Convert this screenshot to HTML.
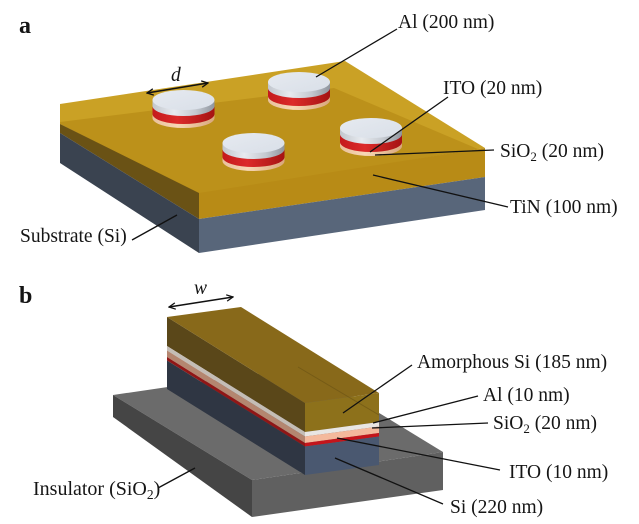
<!DOCTYPE html>
<html>
<head>
<meta charset="utf-8">
<style>
  html,body{margin:0;padding:0;background:#fff;}
  svg{display:block;}
  text{font-family:"Liberation Serif","Times New Roman",serif;fill:#151515;}
</style>
</head>
<body>
<svg width="639" height="524" viewBox="0 0 639 524" xmlns="http://www.w3.org/2000/svg">
<defs>
  <linearGradient id="silver" x1="0" y1="0" x2="1" y2="0">
    <stop offset="0" stop-color="#c2c7ce"/>
    <stop offset="0.35" stop-color="#e7eaef"/>
    <stop offset="0.7" stop-color="#c4c9d0"/>
    <stop offset="1" stop-color="#8f959e"/>
  </linearGradient>
  <linearGradient id="red" x1="0" y1="0" x2="1" y2="0">
    <stop offset="0" stop-color="#c41a1c"/>
    <stop offset="0.4" stop-color="#dc2a2a"/>
    <stop offset="1" stop-color="#a51313"/>
  </linearGradient>
  <linearGradient id="peach" x1="0" y1="0" x2="1" y2="0">
    <stop offset="0" stop-color="#e9c09a"/>
    <stop offset="0.4" stop-color="#f7d8b6"/>
    <stop offset="1" stop-color="#d9a77c"/>
  </linearGradient>
  <linearGradient id="topdisk" x1="0" y1="0" x2="1" y2="1">
    <stop offset="0" stop-color="#e6eaf0"/>
    <stop offset="1" stop-color="#d9dfe8"/>
  </linearGradient>
  <clipPath id="topA">
    <polygon points="60,104 345,61 485,148 199,194 60,124"/>
  </clipPath>
  <marker id="ah" viewBox="0 0 10 10" refX="9" refY="5" markerWidth="8" markerHeight="8" markerUnits="userSpaceOnUse" orient="auto-start-reverse">
    <path d="M1,1 L9,5 L1,9" fill="none" stroke="#111" stroke-width="1.6"/>
  </marker>
</defs>
<rect x="0" y="0" width="639" height="524" fill="#fff"/>

<!-- ================= PANEL A ================= -->
<text x="19" y="33" font-size="24" font-weight="bold">a</text>

<!-- top face -->
<polygon points="60,104 345,61 485,148 199,194 60,124" fill="#caa125"/>
<polygon clip-path="url(#topA)" points="60,122 334,88 485,152 199,205 60,140" fill="#bc911a"/>
<!-- left face gold -->
<polygon points="60,124 199,193 199,219 60,133" fill="#6a5215"/>
<!-- front face gold -->
<polygon points="199,193 485,148 485,177 199,219" fill="#b88b16"/>
<!-- substrate -->
<polygon points="60,133 199,219 199,253 60,163" fill="#3a4350"/>
<polygon points="199,219 485,177 485,210 199,253" fill="#58667a"/>

<!-- disks -->
<g>
  <ellipse cx="299" cy="100" rx="31" ry="10" fill="url(#peach)"/>
  <rect x="268" y="96" width="62" height="4" fill="url(#peach)"/>
  <ellipse cx="299" cy="96" rx="31" ry="10" fill="url(#red)"/>
  <rect x="268" y="88" width="62" height="8" fill="url(#red)"/>
  <ellipse cx="299" cy="88" rx="31" ry="10" fill="url(#silver)"/>
  <rect x="268" y="82" width="62" height="6" fill="url(#silver)"/>
  <ellipse cx="299" cy="82" rx="31" ry="10" fill="url(#topdisk)"/>
</g>
<g>
  <ellipse cx="183.5" cy="118" rx="31" ry="10" fill="url(#peach)"/>
  <rect x="152.5" y="114" width="62" height="4" fill="url(#peach)"/>
  <ellipse cx="183.5" cy="114" rx="31" ry="10" fill="url(#red)"/>
  <rect x="152.5" y="106" width="62" height="8" fill="url(#red)"/>
  <ellipse cx="183.5" cy="106" rx="31" ry="10" fill="url(#silver)"/>
  <rect x="152.5" y="100" width="62" height="6" fill="url(#silver)"/>
  <ellipse cx="183.5" cy="100" rx="31" ry="10" fill="url(#topdisk)"/>
</g>
<g>
  <ellipse cx="371" cy="146" rx="31" ry="10" fill="url(#peach)"/>
  <rect x="340" y="142" width="62" height="4" fill="url(#peach)"/>
  <ellipse cx="371" cy="142" rx="31" ry="10" fill="url(#red)"/>
  <rect x="340" y="134" width="62" height="8" fill="url(#red)"/>
  <ellipse cx="371" cy="134" rx="31" ry="10" fill="url(#silver)"/>
  <rect x="340" y="128" width="62" height="6" fill="url(#silver)"/>
  <ellipse cx="371" cy="128" rx="31" ry="10" fill="url(#topdisk)"/>
</g>
<g>
  <ellipse cx="253.5" cy="161" rx="31" ry="10" fill="url(#peach)"/>
  <rect x="222.5" y="157" width="62" height="4" fill="url(#peach)"/>
  <ellipse cx="253.5" cy="157" rx="31" ry="10" fill="url(#red)"/>
  <rect x="222.5" y="149" width="62" height="8" fill="url(#red)"/>
  <ellipse cx="253.5" cy="149" rx="31" ry="10" fill="url(#silver)"/>
  <rect x="222.5" y="143" width="62" height="6" fill="url(#silver)"/>
  <ellipse cx="253.5" cy="143" rx="31" ry="10" fill="url(#topdisk)"/>
</g>

<!-- d arrow -->
<line x1="147" y1="93" x2="208" y2="83" stroke="#111" stroke-width="1.6" marker-start="url(#ah)" marker-end="url(#ah)"/>
<text x="171" y="81" font-size="19.5" font-style="italic">d</text>

<!-- leader lines a -->
<g stroke="#111" stroke-width="1.3" fill="none">
  <line x1="316" y1="77" x2="397" y2="29"/>
  <line x1="370" y1="152" x2="448" y2="97"/>
  <line x1="375" y1="155" x2="494" y2="150"/>
  <line x1="373" y1="175" x2="508" y2="207"/>
  <line x1="132" y1="240" x2="177" y2="215"/>
</g>
<text x="398" y="28" font-size="19.5">Al (200 nm)</text>
<text x="443" y="94" font-size="19.5">ITO (20 nm)</text>
<text x="500" y="157" font-size="19.5">SiO<tspan font-size="13" dy="4">2</tspan><tspan dy="-4"> (20 nm)</tspan></text>
<text x="510" y="213" font-size="19.5">TiN (100 nm)</text>
<text x="20" y="242" font-size="19.5">Substrate (Si)</text>

<!-- ================= PANEL B ================= -->
<text x="19" y="303" font-size="24" font-weight="bold">b</text>

<!-- insulator -->
<polygon points="113,395 304,367 443,452 252,480" fill="#6b6b6b"/>
<polygon points="113,395 252,480 252,517 113,417" fill="#454545"/>
<polygon points="252,480 443,452 443,490 252,517" fill="#606060"/>

<!-- bar: left long face layers -->
<polygon points="167,317 305,403 305,432 167,346" fill="#5a4719"/>
<polygon points="167,346 305,432 305,436.5 167,350.5" fill="#c4bdb6"/>
<polygon points="167,350.5 305,436.5 305,443 167,357" fill="#b48670"/>
<polygon points="167,357 305,443 305,446.5 167,360.5" fill="#901616"/>
<polygon points="167,360.5 305,446.5 305,475 167,389" fill="#2f3643"/>

<!-- bar: end face layers -->
<polygon points="305,403 379,393 379,422 305,432" fill="#8d711b"/>
<polygon points="305,432 379,422 379,426.5 305,436.5" fill="#e9e6e3"/>
<polygon points="305,436.5 379,426.5 379,433 305,443" fill="#f4b99c"/>
<polygon points="305,443 379,433 379,436.5 305,446.5" fill="#c4151b"/>
<polygon points="305,446.5 379,436.5 379,465 305,475" fill="#4a5870"/>

<!-- bar top face -->
<polygon points="167,317 241,307 379,393 305,403" fill="#88691a"/>
<line x1="298" y1="367" x2="379" y2="415" stroke="#6a5214" stroke-width="1" opacity="0.6"/>

<!-- w arrow -->
<line x1="169" y1="307" x2="233" y2="297" stroke="#111" stroke-width="1.6" marker-start="url(#ah)" marker-end="url(#ah)"/>
<text x="194" y="294" font-size="19.5" font-style="italic">w</text>

<!-- leader lines b -->
<g stroke="#111" stroke-width="1.3" fill="none">
  <line x1="343" y1="413" x2="412" y2="365"/>
  <line x1="373" y1="423" x2="478" y2="396"/>
  <line x1="372" y1="428" x2="488" y2="423"/>
  <line x1="337" y1="438" x2="500" y2="470"/>
  <line x1="335" y1="458" x2="443" y2="504"/>
  <line x1="158" y1="488" x2="195" y2="468"/>
</g>
<text x="417" y="368" font-size="19.5">Amorphous Si (185 nm)</text>
<text x="483" y="401" font-size="19.5">Al (10 nm)</text>
<text x="493" y="429" font-size="19.5">SiO<tspan font-size="13" dy="4">2</tspan><tspan dy="-4"> (20 nm)</tspan></text>
<text x="509" y="478" font-size="19.5">ITO (10 nm)</text>
<text x="450" y="513" font-size="19.5">Si (220 nm)</text>
<text x="33" y="495" font-size="20">Insulator (SiO<tspan font-size="13.5" dy="4">2</tspan><tspan dy="-4">)</tspan></text>
</svg>
</body>
</html>
